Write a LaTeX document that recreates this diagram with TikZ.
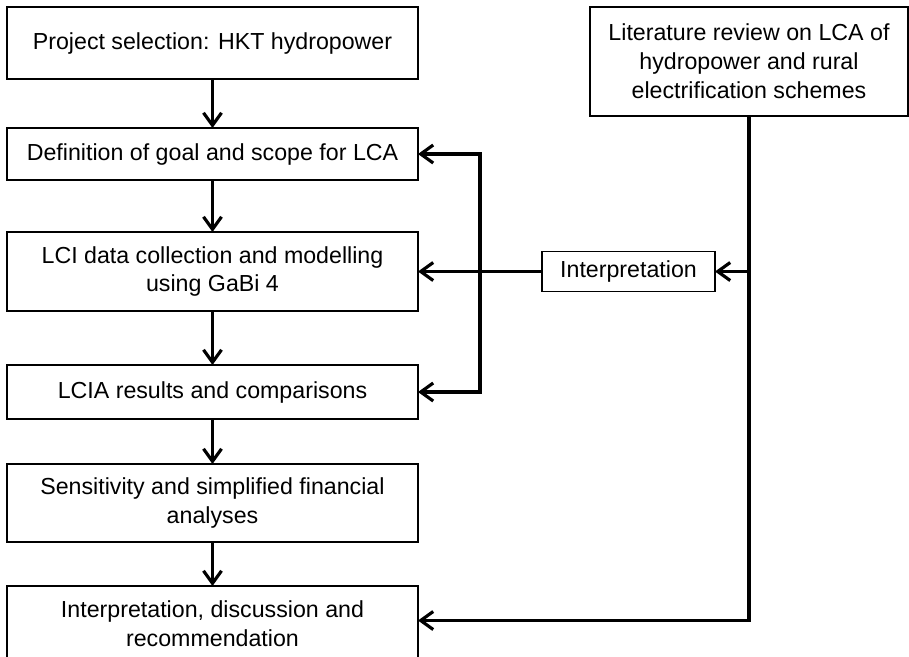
\documentclass[tikz,border=0pt]{standalone}
\usepackage{fontspec}
\setmainfont{Liberation Sans}
\usetikzlibrary{positioning,arrows.meta}

\begin{document}
\begin{tikzpicture}[
     font = \fontsize{13.2}{16.4}\selectfont,
     stage/.style = {draw, line width = 1.1pt, minimum width = 8.22cm, align = center, inner sep = 2pt, outer sep = 0pt},
     flow/.style = {->, line width = 1.8pt},
     > = {Straight Barb[length = 2.5mm, width = 3.6mm]}
    ]
    \useasboundingbox (0,0) rectangle (18.18,-13.12);

    \node [stage, minimum height = 1.44cm] (Selection) at (4.25,-0.86) {Project selection: HKT hydropower};
    \node [stage, minimum height = 1.04cm, below = 0.98cm of Selection] (Goal) {Definition of goal and scope for LCA};
    \node [stage, minimum height = 1.58cm, below = 1.04cm of Goal] (Inventory) {LCI data collection and modelling\\using GaBi 4};
    \node [stage, minimum height = 1.08cm, below = 1.08cm of Inventory] (Impact) {LCIA results and comparisons};
    \node [stage, minimum height = 1.56cm, below = 0.9cm of Impact] (Sensitivity) {Sensitivity and simplified financial\\analyses};
    \node [stage, minimum height = 1.5cm, below = 0.88cm of Sensitivity] (Discussion) {Interpretation, discussion and\\recommendation};

    \node [stage, minimum width = 6.36cm, minimum height = 2.18cm, right = 3.44cm of Selection.north east, anchor = north west] (Review) {Literature review on LCA of\\hydropower and rural\\electrification schemes};
    \node [stage, minimum width = 3.46cm, minimum height = 0.8cm, right = 2.48cm of Inventory] (Interpretation) {Interpretation};

    \foreach \from/\to in {Selection/Goal, Goal/Inventory, Inventory/Impact, Impact/Sensitivity, Sensitivity/Discussion}
        \draw [flow] (\from) -- (\to);

    \coordinate (Tap) at (Review.south |- Interpretation.east);
    \draw [flow] (Review.south) |- ([yshift = 0.06cm] Discussion.east);
    \draw [flow] (Tap) -- (Interpretation.east);
    \draw [flow] (Interpretation) -- (Inventory);
    \draw [flow, <->] (Impact.east) -| ([xshift = 1.24cm] Goal.east) -- (Goal.east);

\end{tikzpicture}
\end{document}
